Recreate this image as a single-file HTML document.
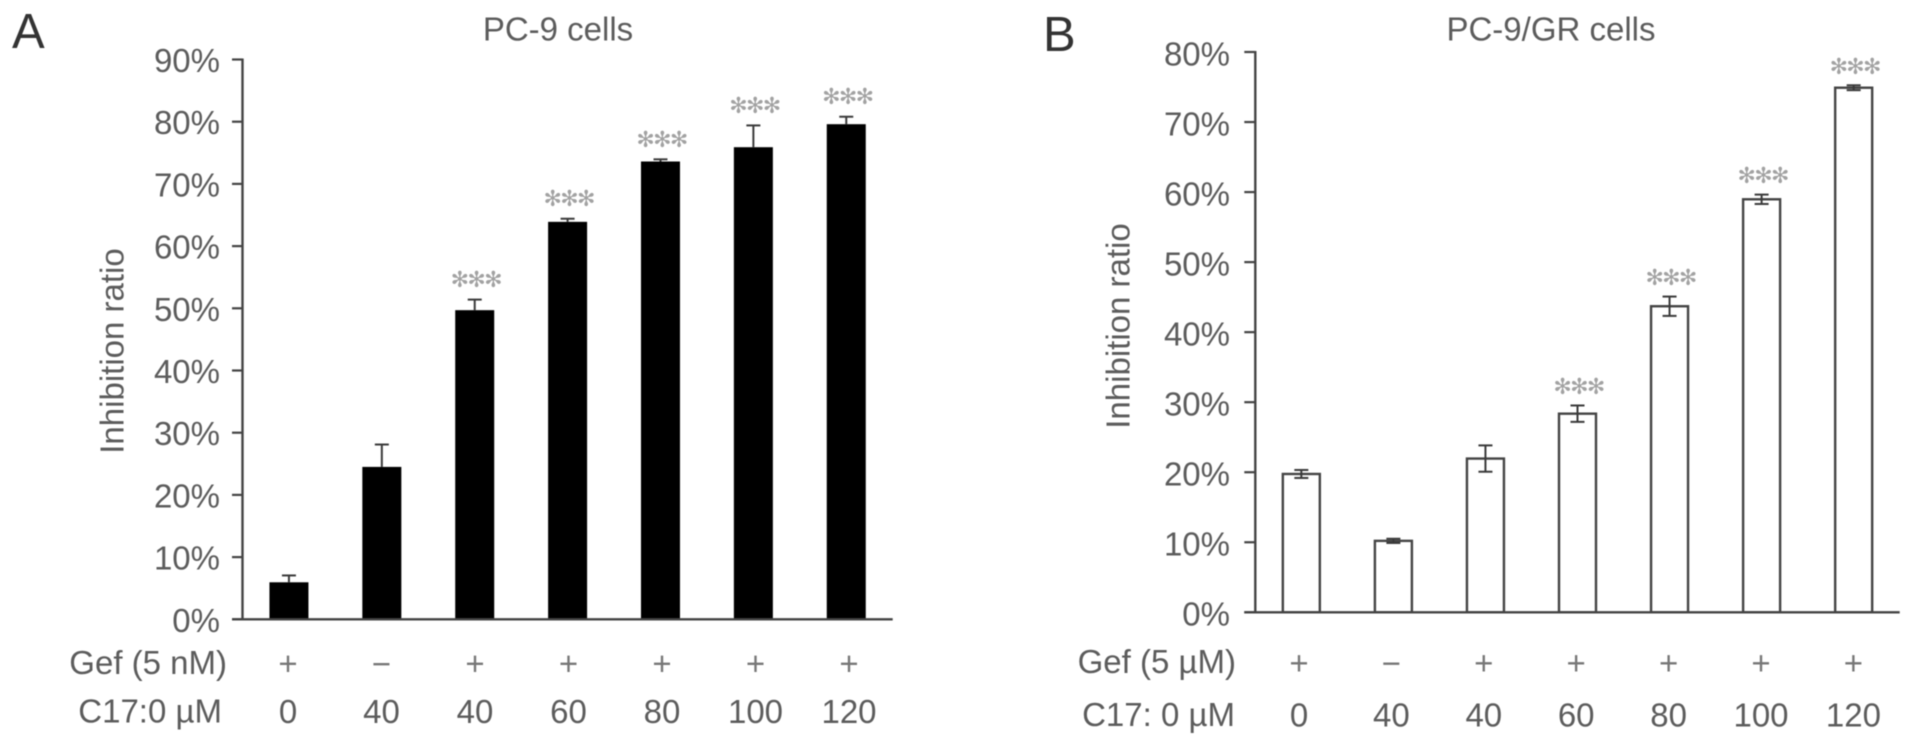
<!DOCTYPE html>
<html lang="en">
<head>
<meta charset="utf-8">
<title>Inhibition ratio in PC-9 and PC-9/GR cells</title>
<style>
  html, body { margin: 0; padding: 0; background: #fff; width: 1913px; height: 746px; overflow: hidden; }
  #figure { display: block; filter: blur(0.45px); }
  text { font-family: "Liberation Sans", "DejaVu Sans", sans-serif; fill: #5c5c5c; font-size: 33px; }
  .panel-letter { font-size: 49px; fill: #333; }
  .stars { font-family: "DejaVu Sans", sans-serif; font-size: 22px; fill: #a2a2a2; letter-spacing: -1.7px; }
  .sign { fill: #777; }
</style>
</head>
<body>
<svg id="figure" width="1913" height="746" viewBox="0 0 1913 746" xmlns="http://www.w3.org/2000/svg">
  <rect width="1913" height="746" fill="#fff"></rect>
  <text class="panel-letter" x="12" y="48">A</text>
  <text class="panel-letter" x="1043" y="51">B</text>
  <text x="558" y="40.5" text-anchor="middle">PC-9 cells</text>
  <text x="1551" y="40.5" text-anchor="middle">PC-9/GR cells</text>
  <text transform="translate(123.3 351) rotate(-90)" text-anchor="middle">Inhibition ratio</text>
  <text transform="translate(1129.3 326) rotate(-90)" text-anchor="middle">Inhibition ratio</text>
  <text x="227" y="674" text-anchor="end">Gef (5 nM)</text>
  <text x="222" y="722.5" text-anchor="end">C17:0 µM</text>
  <text x="1236" y="673" text-anchor="end">Gef (5 µM)</text>
  <text x="1235" y="726" text-anchor="end">C17: 0 µM</text>
  <g id="panel-a"></g>
  <g id="panel-b"></g>
</svg>
<script>
// Shared categories
const c17Doses = ['0', '40', '40', '60', '80', '100', '120'];
const gefSigns = ['+', '\u2212', '+', '+', '+', '+', '+'];

// Panel A: PC-9 cells
const panelATickValues = [0, 10, 20, 30, 40, 50, 60, 70, 80, 90];
const panelATickLabels = ['0%', '10%', '20%', '30%', '40%', '50%', '60%', '70%', '80%', '90%'];
const panelAValues = [5.95, 24.5, 49.7, 63.9, 73.6, 75.9, 79.6];
const panelAErrors = [1.1, 3.6, 1.7, 0.5, 0.35, 3.5, 1.2];
const panelASignificant = [false, false, true, true, true, true, true];

// Panel B: PC-9/GR cells
const panelBTickValues = [0, 10, 20, 30, 40, 50, 60, 70, 80];
const panelBTickLabels = ['0%', '10%', '20%', '30%', '40%', '50%', '60%', '70%', '80%'];
const panelBValues = [19.75, 10.2, 21.95, 28.36, 43.7, 58.97, 74.9];
const panelBErrors = [0.57, 0.3, 1.88, 1.17, 1.38, 0.67, 0.35];
const panelBSignificant = [false, false, false, true, true, true, true];

const SVG_NS = 'http://www.w3.org/2000/svg';

function make(parent, tag, attrs, content) {
  const node = document.createElementNS(SVG_NS, tag);
  Object.keys(attrs).forEach(function (key) { node.setAttribute(key, attrs[key]); });
  if (content !== undefined) node.textContent = content;
  parent.appendChild(node);
  return node;
}

function drawPanel(opts) {
  const root = document.getElementById(opts.id);
  const prefix = opts.prefix;
  const maxTick = opts.tickValues[opts.tickValues.length - 1];
  const y = function (v) { return opts.y0 - (v / maxTick) * (opts.y0 - opts.yTop); };
  const band = (opts.xEnd - opts.xAxis) / opts.values.length;
  const x = function (i) { return opts.xAxis + band * (i + 0.5); };
  const labelX = function (i) { return opts.labelStart + opts.labelStep * i; };

  opts.values.forEach(function (value, i) {
    const top = y(value);
    const bar = make(root, 'rect', {
      x: x(i) - opts.barWidth / 2,
      y: top,
      width: opts.barWidth,
      height: opts.y0 - top,
      fill: opts.barFill,
      stroke: opts.barStroke,
      'stroke-width': opts.barStrokeWidth
    });
    
    

    const hi = y(value + opts.errors[i]);
    const lo = opts.twoSided ? y(value - opts.errors[i]) : top;
    const stem = make(root, 'line', { x1: x(i), x2: x(i), y1: hi, y2: lo, stroke: '#3a3a3a', 'stroke-width': 2 });
    
    

    const capTop = make(root, 'line', { x1: x(i) - 7, x2: x(i) + 7, y1: hi, y2: hi, stroke: '#3a3a3a', 'stroke-width': 2 });
    
    

    if (opts.twoSided) {
      const capLow = make(root, 'line', { x1: x(i) - 7, x2: x(i) + 7, y1: lo, y2: lo, stroke: '#3a3a3a', 'stroke-width': 2 });
      
      
    }

    if (opts.significant[i]) {
      const stars = make(root, 'text', {
        class: 'stars',
        x: x(i) + 1,
        y: hi - opts.starGap + 7.5,
        'text-anchor': 'middle'
      }, '\u273B\u273B\u273B');
      
      
    }

    const sign = make(root, 'text', {
      class: 'sign',
      x: labelX(i),
      y: opts.signBaseline,
      'text-anchor': 'middle'
    }, gefSigns[i]);
    
    

    const dose = make(root, 'text', {
      x: labelX(i),
      y: opts.doseBaseline,
      'text-anchor': 'middle'
    }, c17Doses[i]);
    
    
  });

  const yAxis = make(root, 'line', { x1: opts.xAxis, x2: opts.xAxis, y1: y(maxTick) - 1, y2: opts.y0, stroke: '#444', 'stroke-width': 2.4 });
  
  

  const xAxis = make(root, 'line', { x1: opts.xAxis - opts.tickLength, x2: opts.xEnd, y1: opts.y0, y2: opts.y0, stroke: '#444', 'stroke-width': 2.4 });
  
  

  opts.tickValues.forEach(function (tick, i) {
    const mark = make(root, 'line', { x1: opts.xAxis - opts.tickLength, x2: opts.xAxis, y1: y(tick), y2: y(tick), stroke: '#444', 'stroke-width': 2.2 });
    
    

    const label = make(root, 'text', {
      x: opts.tickLabelRight,
      y: y(tick) + opts.tickLabelDrop,
      'text-anchor': 'end'
    }, opts.tickLabels[i]);
    
    
  });
}

drawPanel({
  id: 'panel-a', prefix: 'panel-a',
  values: panelAValues, errors: panelAErrors, significant: panelASignificant,
  tickValues: panelATickValues, tickLabels: panelATickLabels,
  xAxis: 242.5, xEnd: 892.7, y0: 619.3, yTop: 59.5,
  barWidth: 39, barFill: '#000', barStroke: 'none', barStrokeWidth: 0,
  twoSided: false, starGap: 20, tickLength: 10.5,
  tickLabelRight: 220, tickLabelDrop: 12.5,
  labelStart: 288, labelStep: 93.5, signBaseline: 675, doseBaseline: 723
});

drawPanel({
  id: 'panel-b', prefix: 'panel-b',
  values: panelBValues, errors: panelBErrors, significant: panelBSignificant,
  tickValues: panelBTickValues, tickLabels: panelBTickLabels,
  xAxis: 1255.3, xEnd: 1899.7, y0: 612.3, yTop: 52,
  barWidth: 37, barFill: '#fff', barStroke: '#444', barStrokeWidth: 2.4,
  twoSided: true, starGap: 19, tickLength: 11,
  tickLabelRight: 1230, tickLabelDrop: 13.3,
  labelStart: 1299, labelStep: 92.4, signBaseline: 674.5, doseBaseline: 726.3
});
</script>
</body>
</html>
